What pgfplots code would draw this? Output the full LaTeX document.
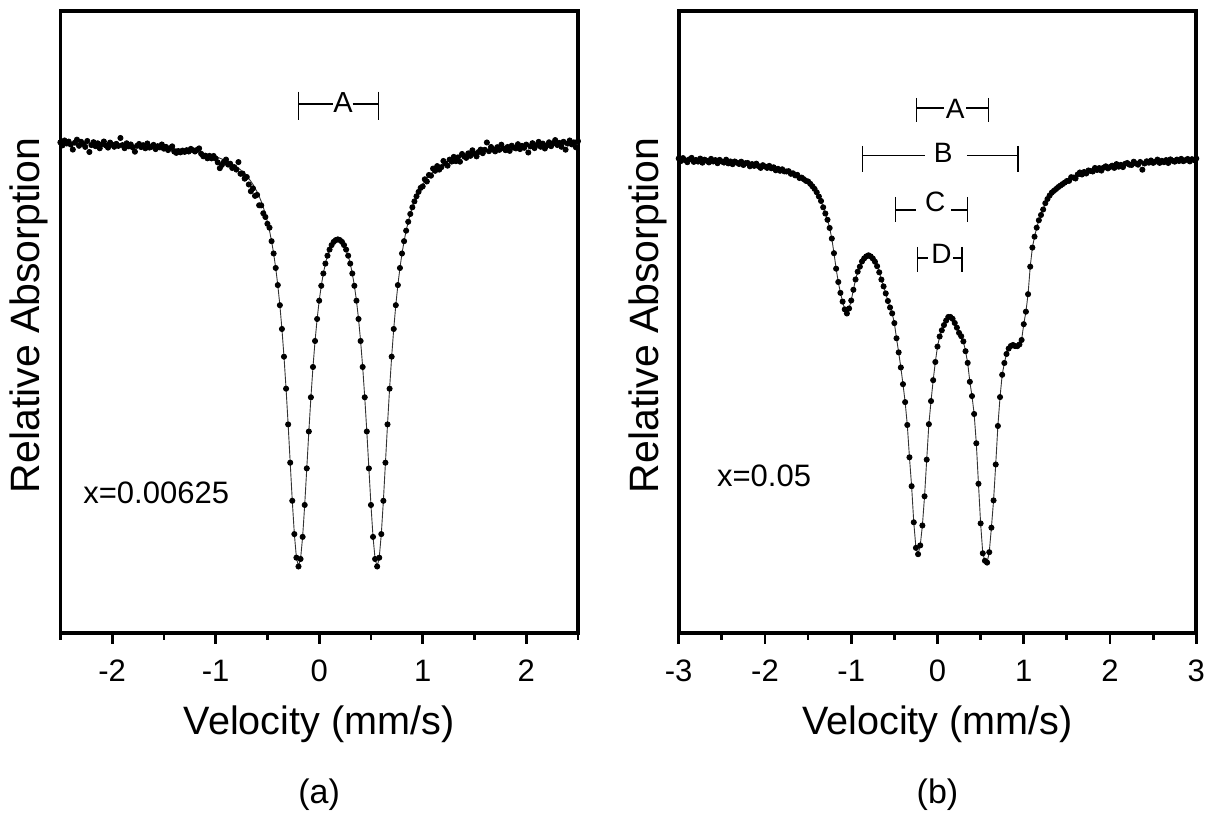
\documentclass[border=0pt]{standalone}
\usepackage{fontspec}
\setmainfont{Liberation Sans}
\usepackage{pgfplots}
\usepackage{pgfplotstable}
\pgfplotsset{compat=1.18}

\newcommand{\lblfont}{\fontsize{20.5}{24}\selectfont}
\newcommand{\xlblfont}{\fontsize{19.8}{24}\selectfont}
\newcommand{\tickfont}{\fontsize{15.5}{18}\selectfont}
\newcommand{\capfont}{\fontsize{17}{20}\selectfont}
\newcommand{\brfont}{\fontsize{14}{16}\selectfont}

% ---------------- panel (a): x = 0.00625 ----------------
% fitted curve (wings coarse, centre dense)
\pgfplotstableread{
v y
-2.50 489.6
-2.40 489.4
-2.30 489.2
-2.20 488.9
-2.10 488.6
-2.00 488.3
-1.90 487.9
-1.80 487.4
-1.70 486.8
-1.60 486.1
-1.50 485.3
-1.40 484.4
-1.30 483.1
-1.20 481.5
-1.10 479.3
-1.00 476.4
-0.94 474.0
-0.90 472.4
-0.86 470.3
-0.82 467.8
-0.80 466.4
-0.78 464.9
-0.76 463.2
-0.74 461.4
-0.72 459.3
-0.70 457.0
-0.68 454.5
-0.66 451.7
-0.64 448.6
-0.62 445.1
-0.60 441.1
-0.58 436.7
-0.56 431.6
-0.54 425.7
-0.52 419.0
-0.50 411.2
-0.48 402.3
-0.46 391.8
-0.44 379.5
-0.42 365.0
-0.40 347.9
-0.38 327.8
-0.36 304.0
-0.34 276.3
-0.32 244.3
-0.30 208.6
-0.28 170.3
-0.26 132.2
-0.24 98.9
-0.22 75.3
-0.20 66.5
-0.18 74.0
-0.16 96.1
-0.14 128.0
-0.12 164.6
-0.10 201.5
-0.08 235.7
-0.06 266.0
-0.04 292.0
-0.02 314.0
0.00 332.3
0.02 347.2
0.04 359.5
0.06 369.4
0.08 377.3
0.10 383.4
0.12 387.9
0.14 391.1
0.16 392.9
0.18 393.6
0.20 392.9
0.22 391.1
0.24 387.9
0.26 383.4
0.28 377.3
0.30 369.4
0.32 359.5
0.34 347.2
0.36 332.3
0.38 314.0
0.40 292.0
0.42 266.0
0.44 235.7
0.46 201.5
0.48 164.6
0.50 128.0
0.52 96.1
0.54 74.0
0.56 66.5
0.58 75.3
0.60 98.9
0.62 132.2
0.64 170.3
0.66 208.6
0.68 244.3
0.70 276.3
0.72 304.0
0.74 327.8
0.76 347.9
0.78 365.0
0.80 379.5
0.82 391.8
0.84 402.3
0.86 411.2
0.88 419.0
0.90 425.7
0.92 431.6
0.94 436.7
0.96 441.1
0.98 445.1
1.00 448.6
1.02 451.7
1.04 454.5
1.06 457.0
1.08 459.3
1.10 461.4
1.12 463.2
1.14 464.9
1.16 466.4
1.18 467.8
1.22 470.3
1.26 472.4
1.30 474.1
1.40 477.6
1.50 480.2
1.60 482.2
1.70 483.6
1.80 484.8
1.90 485.6
2.00 486.4
2.10 487.0
2.20 487.6
2.30 488.0
2.40 488.4
2.50 488.8
}\fitA

% measured points in the wings (scattered)
\pgfplotstableread{
v y
-2.50 490.6
-2.48 487.6
-2.46 492.5
-2.44 489.5
-2.42 491.4
-2.40 488.4
-2.38 483.4
-2.36 490.3
-2.34 493.3
-2.32 487.2
-2.30 491.2
-2.28 489.1
-2.26 486.1
-2.24 492.0
-2.22 481.0
-2.20 487.9
-2.18 490.8
-2.16 486.8
-2.14 489.7
-2.12 484.7
-2.10 488.6
-2.08 491.5
-2.06 487.5
-2.04 485.4
-2.02 490.4
-2.00 488.3
-1.98 486.2
-1.96 489.1
-1.94 487.1
-1.92 495.0
-1.90 487.9
-1.88 484.8
-1.86 489.7
-1.84 486.6
-1.82 488.5
-1.80 485.4
-1.78 481.3
-1.76 487.2
-1.74 489.0
-1.72 485.9
-1.70 487.8
-1.68 484.7
-1.66 489.5
-1.64 485.4
-1.62 486.2
-1.60 488.1
-1.58 483.9
-1.56 486.8
-1.54 485.6
-1.52 488.5
-1.50 484.3
-1.48 486.1
-1.46 482.9
-1.44 484.8
-1.42 486.6
-1.40 481.4
-1.38 480.1
-1.36 481.9
-1.34 480.6
-1.32 482.4
-1.30 481.1
-1.28 482.8
-1.26 481.5
-1.24 484.1
-1.22 482.8
-1.20 481.5
-1.18 483.1
-1.16 484.6
-1.14 479.2
-1.12 476.7
-1.10 477.3
-1.08 474.7
-1.06 477.1
-1.04 474.6
-1.02 477.0
-1.00 474.4
-0.98 470.6
-0.96 464.8
-0.94 468.0
-0.92 471.2
-0.90 473.4
-0.88 468.4
-0.86 469.3
-0.84 465.0
-0.82 465.8
-0.80 463.4
-0.78 470.9
-0.76 459.2
-0.74 459.4
-0.72 454.3
-0.70 456.0
-0.68 448.5
-0.66 441.7
-0.64 444.6
-0.62 437.1
-0.60 438.1
-0.58 427.7
-0.56 427.6
-0.54 419.7
-0.52 416.0
-0.50 409.2
-0.48 405.3
-0.46 391.8
0.98 445.1
1.00 446.6
1.02 453.7
1.04 451.5
1.06 458.0
1.08 457.3
1.10 464.4
1.12 462.2
1.14 466.9
1.16 463.4
1.18 465.8
1.20 472.0
1.22 469.3
1.24 467.3
1.26 473.4
1.28 471.4
1.30 476.1
1.32 471.8
1.34 475.6
1.36 471.3
1.38 479.0
1.40 476.6
1.42 475.1
1.44 479.6
1.46 477.1
1.48 482.7
1.50 479.2
1.52 476.6
1.54 481.0
1.56 483.4
1.58 479.8
1.60 483.2
1.62 490.5
1.64 481.8
1.66 486.0
1.68 483.3
1.70 481.6
1.72 485.8
1.74 483.1
1.76 488.3
1.78 484.6
1.80 482.8
1.82 486.0
1.84 482.1
1.86 487.3
1.88 485.4
1.90 484.6
1.92 488.8
1.94 483.9
1.96 487.1
1.98 485.2
2.00 488.4
2.02 480.5
2.04 486.6
2.06 489.8
2.08 484.9
2.10 488.0
2.12 491.1
2.14 486.2
2.16 489.4
2.18 484.5
2.20 487.6
2.22 490.7
2.24 486.8
2.26 489.8
2.28 492.9
2.30 488.0
2.32 490.1
2.34 486.2
2.36 491.2
2.38 483.3
2.40 489.4
2.42 492.5
2.44 488.6
2.46 490.6
2.48 485.7
2.50 491.8
}\dotsA

% ---------------- panel (b): x = 0.05 ----------------
\pgfplotstableread{
v y
-3.000 473.0
-2.800 472.5
-2.600 472.0
-2.400 471.0
-2.200 469.0
-2.000 466.5
-1.900 464.7
-1.800 462.7
-1.700 460.2
-1.600 456.0
-1.500 451.5
-1.475 449.2
-1.450 446.7
-1.425 444.1
-1.400 440.7
-1.375 436.5
-1.350 432.0
-1.325 425.7
-1.300 419.5
-1.275 413.2
-1.250 405.0
-1.225 394.4
-1.200 379.8
-1.175 364.3
-1.150 351.0
-1.125 340.1
-1.100 331.4
-1.075 323.6
-1.050 319.5
-1.025 324.5
-1.000 332.5
-0.975 343.2
-0.950 353.5
-0.925 361.3
-0.900 366.3
-0.875 371.5
-0.850 374.6
-0.825 376.6
-0.800 377.7
-0.775 376.6
-0.750 374.5
-0.725 371.3
-0.700 366.8
-0.675 360.7
-0.650 353.4
-0.625 346.6
-0.600 339.6
-0.575 332.0
-0.550 325.5
-0.525 319.6
-0.500 309.9
-0.475 294.7
-0.450 280.6
-0.425 265.5
-0.400 248.8
-0.375 230.9
-0.350 208.0
-0.325 175.7
-0.300 146.8
-0.275 110.7
-0.250 85.1
-0.225 78.8
-0.200 87.6
-0.175 107.5
-0.150 136.7
-0.125 173.3
-0.100 208.8
-0.075 231.9
-0.050 252.8
-0.025 271.0
0.000 286.4
0.025 296.5
0.050 302.7
0.075 307.9
0.100 312.4
0.125 316.0
0.150 316.0
0.175 314.2
0.200 310.0
0.225 305.3
0.250 300.1
0.275 296.8
0.300 291.6
0.325 281.8
0.350 270.1
0.375 251.2
0.400 236.9
0.425 219.0
0.450 189.7
0.475 149.2
0.500 109.6
0.525 79.7
0.550 72.2
0.575 70.4
0.600 80.8
0.625 105.3
0.650 132.6
0.675 168.5
0.700 207.0
0.725 235.9
0.750 258.2
0.775 270.0
0.800 279.0
0.825 284.4
0.850 287.0
0.875 288.0
0.900 286.9
0.925 286.8
0.950 288.5
0.975 293.0
1.000 308.8
1.025 321.3
1.050 338.8
1.075 366.3
1.100 385.4
1.125 396.3
1.150 405.3
1.175 412.7
1.200 418.0
1.225 423.5
1.250 429.8
1.275 434.0
1.300 437.5
1.325 440.4
1.350 442.2
1.375 444.0
1.400 445.9
1.425 447.4
1.450 448.9
1.475 450.4
1.500 452.0
1.600 456.5
1.700 460.5
1.800 462.5
1.900 464.4
2.000 466.0
2.200 468.5
2.400 470.5
2.600 471.7
2.800 472.5
3.000 473.5
}\fitB

\pgfplotstableread{
v y
-3.000 474.5
-2.975 471.9
-2.950 474.9
-2.925 472.8
-2.900 470.8
-2.875 473.7
-2.850 475.1
-2.825 471.1
-2.800 473.0
-2.775 471.4
-2.750 474.4
-2.725 470.3
-2.700 473.3
-2.675 472.2
-2.650 470.6
-2.625 474.1
-2.600 471.5
-2.575 472.9
-2.550 469.8
-2.525 473.1
-2.500 471.5
-2.475 470.4
-2.450 473.3
-2.425 469.6
-2.400 471.5
-2.375 468.8
-2.350 471.5
-2.325 470.3
-2.300 469.0
-2.275 471.3
-2.250 468.0
-2.225 469.8
-2.200 470.0
-2.175 466.7
-2.150 468.9
-2.125 467.1
-2.100 469.3
-2.075 466.9
-2.050 465.1
-2.025 467.8
-2.000 466.5
-1.975 465.1
-1.950 467.1
-1.925 464.7
-1.900 465.7
-1.875 462.7
-1.850 464.2
-1.825 462.2
-1.800 463.7
-1.775 461.6
-1.750 461.5
-1.725 461.8
-1.700 459.2
-1.675 459.7
-1.650 457.6
-1.625 458.1
-1.600 455.0
-1.575 455.4
-1.550 453.8
-1.525 452.1
1.525 452.1
1.550 455.8
1.575 455.4
1.600 454.5
1.625 458.5
1.650 460.5
1.675 458.5
1.700 461.0
1.725 459.5
1.750 462.5
1.775 462.0
1.800 461.5
1.825 465.0
1.850 463.0
1.875 464.9
1.900 462.4
1.925 465.3
1.950 466.7
1.975 464.6
2.000 466.0
2.025 467.3
2.050 465.1
2.075 468.9
2.100 466.3
2.125 468.1
2.150 465.9
2.175 469.2
2.200 470.0
2.225 468.3
2.250 468.0
2.275 471.3
2.300 469.5
2.325 468.3
2.350 471.0
2.375 463.3
2.400 469.5
2.425 471.7
2.450 470.3
2.475 472.5
2.500 470.1
2.525 471.3
2.550 473.4
2.575 470.1
2.600 472.2
2.625 470.8
2.650 472.9
2.675 470.0
2.700 473.6
2.725 472.2
2.750 471.3
2.775 473.4
2.800 472.0
2.825 474.1
2.850 471.8
2.875 472.9
2.900 474.0
2.925 471.6
2.950 473.8
2.975 472.9
3.000 474.5
}\dotsB

\pgfplotsset{
  moss/.style={
    scale only axis,
    width=258.8pt, height=311pt,
    ymin=0, ymax=622,
    ytick=\empty,
    clip=false,
    axis line style={line width=1.8pt},
    tick align=outside,
    xtick pos=bottom,
    major tick length=5.5pt,
    minor tick length=3.5pt,
    major tick style={black, line width=1.4pt},
    minor tick style={black, line width=1.4pt},
    xticklabels={},
    xlabel={Velocity (mm/s)},
    xlabel style={font=\xlblfont, at={([yshift=-51pt]axis description cs:0.5,0)}, anchor=base},
    ylabel={Relative Absorption},
    ylabel style={font=\lblfont, at={([xshift=-15.5pt,yshift=3.25pt]axis description cs:0,0.5)}, anchor=center},
  },
  fitline/.style={black!80, line width=0.45pt, no markers},
  pts/.style={only marks, mark=*, mark size=1.3pt, black},
}
\tikzset{
  br/.style={black, line width=0.6pt},
  tl/.style={font=\tickfont, anchor=center, inner sep=0pt, yshift=-19pt},
}

\begin{document}
\begin{tikzpicture}

\begin{axis}[moss, name=pa, at={(0pt,0pt)}, anchor=south west,
    xmin=-2.5, xmax=2.5,
    xtick={-2,-1,0,1,2},
    minor xtick={-2.5,-1.5,-0.5,0.5,1.5,2.5}]
\addplot[fitline] table[x=v, y=y] {\fitA};
\addplot[pts] table[x=v, y=y] {\dotsA};
\addplot[pts, restrict x to domain=-0.45:0.97] table[x=v, y=y] {\fitA};

% tick labels
\node[tl] at (axis cs:-2,0) {-2};
\node[tl] at (axis cs:-1,0) {-1};
\node[tl] at (axis cs:0,0) {0};
\node[tl] at (axis cs:1,0) {1};
\node[tl] at (axis cs:2,0) {2};

% doublet marker A
\draw[br] (axis cs:-0.202,541.3) -- (axis cs:-0.202,513);
\draw[br] (axis cs:0.571,541.3) -- (axis cs:0.571,513);
\draw[br] (axis cs:-0.202,529) -- (axis cs:0.136,529);
\draw[br] (axis cs:0.324,529) -- (axis cs:0.571,529);
\node[font=\fontsize{14.5}{17}\selectfont, inner sep=0pt] at (axis cs:0.23,530.3) {A};

\node[font=\tickfont, anchor=west, inner sep=0pt] at (axis cs:-2.282,140) {x=0.00625};
\node[font=\capfont] at ([yshift=-81pt]axis description cs:0.5,0) {(a)};
\end{axis}

\begin{axis}[moss, name=pb, at={(309.15pt,0pt)}, anchor=south west,
    xmin=-3, xmax=3,
    xtick={-3,-2,-1,0,1,2,3},
    minor xtick={-2.5,-1.5,-0.5,0.5,1.5,2.5}]
\addplot[fitline] table[x=v, y=y] {\fitB};
\addplot[pts] table[x=v, y=y] {\dotsB};
\addplot[pts, restrict x to domain=-1.51:1.51] table[x=v, y=y] {\fitB};

% tick labels
\node[tl] at (axis cs:-3,0) {-3};
\node[tl] at (axis cs:-2,0) {-2};
\node[tl] at (axis cs:-1,0) {-1};
\node[tl] at (axis cs:0,0) {0};
\node[tl] at (axis cs:1,0) {1};
\node[tl] at (axis cs:2,0) {2};
\node[tl] at (axis cs:3,0) {3};

% A
\draw[br] (axis cs:-0.240,535) -- (axis cs:-0.240,511);
\draw[br] (axis cs:0.593,535) -- (axis cs:0.593,511);
\draw[br] (axis cs:-0.240,525) -- (axis cs:0.080,525);
\draw[br] (axis cs:0.335,525) -- (axis cs:0.593,525);
\node[font=\brfont, inner sep=0pt] at (axis cs:0.205,524) {A};
% B
\draw[br] (axis cs:-0.873,487) -- (axis cs:-0.873,461);
\draw[br] (axis cs:0.934,487) -- (axis cs:0.934,461);
\draw[br] (axis cs:-0.873,477.3) -- (axis cs:-0.140,477.3);
\draw[br] (axis cs:0.342,477.3) -- (axis cs:0.934,477.3);
\node[font=\brfont, inner sep=0pt] at (axis cs:0.066,480) {B};
% C
\draw[br] (axis cs:-0.491,436) -- (axis cs:-0.491,411);
\draw[br] (axis cs:0.352,436) -- (axis cs:0.352,411);
\draw[br] (axis cs:-0.491,423) -- (axis cs:-0.249,423);
\draw[br] (axis cs:0.159,423) -- (axis cs:0.352,423);
\node[font=\brfont, inner sep=0pt] at (axis cs:-0.026,431) {C};
% D
\draw[br] (axis cs:-0.236,386) -- (axis cs:-0.236,361);
\draw[br] (axis cs:0.283,386) -- (axis cs:0.283,361);
\draw[br] (axis cs:-0.236,375) -- (axis cs:-0.112,375);
\draw[br] (axis cs:0.182,375) -- (axis cs:0.283,375);
\node[font=\brfont, inner sep=0pt] at (axis cs:0.046,379) {D};

\node[font=\tickfont, anchor=west, inner sep=0pt] at (axis cs:-2.559,157) {x=0.05};
\node[font=\capfont] at ([yshift=-81pt]axis description cs:0.5,0) {(b)};
\end{axis}

\path (-30.2pt,-89pt) rectangle (575.8pt,316.5pt);
\end{tikzpicture}
\end{document}
